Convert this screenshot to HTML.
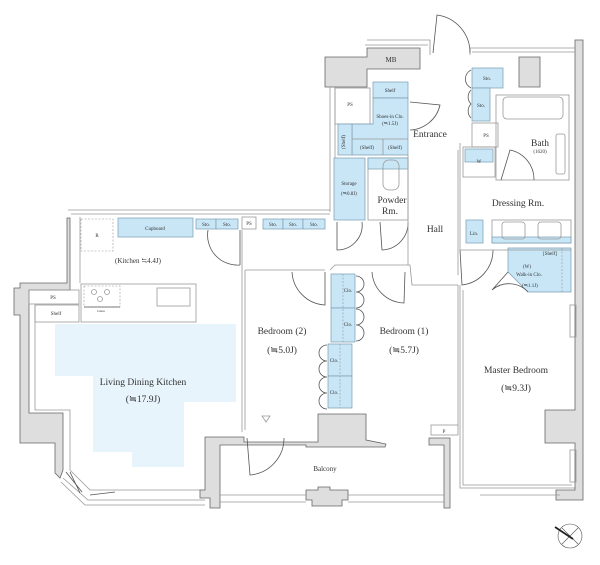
<!DOCTYPE html>
<html><head><meta charset="utf-8"><style>
html,body{margin:0;padding:0;background:#fff}
svg{display:block}
text{font-family:"Liberation Serif",serif;fill:#333;text-anchor:middle}
.s{font-size:5px}.m{font-size:7px}.l{font-size:9.5px}
.w{fill:#dedede;stroke:#666;stroke-width:0.8}
.ln{fill:none;stroke:#999;stroke-width:0.8}
.dk{fill:none;stroke:#555;stroke-width:0.8}
.b{fill:#c9e6f6;stroke:#7a9cb3;stroke-width:0.7}
.dash{fill:none;stroke:#999;stroke-width:0.6;stroke-dasharray:2,1.5}
</style></head><body>
<svg width="600" height="565" viewBox="0 0 600 565" xmlns="http://www.w3.org/2000/svg">
<!-- LDK blue -->
<polygon points="55,324 236,324 236,402 184,402 184,467 132,467 132,452 93,452 93,376 55,376" fill="#e8f4fc"/>

<!-- outer lines top-left LDK -->
<polyline class="ln" points="68,210 330,210"/>
<polyline class="ln" points="71,214 330,214"/>
<polyline class="ln" points="80,217 80,283"/>
<!-- left wall gray -->
<polygon class="w" points="67,218 70,218 70,290 29,290 29,413 63,413 63,470 60,478 55,473 55,443 20,443 20,315 14,315 14,288 20,288 20,283 67,283"/>
<polyline class="ln" points="35,305 35,410 70,410 70,470 90,490 205,490"/>
<polyline class="ln" points="63,478 88,500 205,500"/>
<polyline class="ln" points="61,482 85,505 205,505"/>
<line class="dk" x1="66" y1="472" x2="82" y2="492"/><line class="dk" x1="70" y1="472" x2="80" y2="493"/>
<line class="dk" x1="90" y1="495" x2="115" y2="492"/>
<!-- PS / Shelf -->
<rect class="ln" x="29" y="290" width="50" height="14"/>
<rect class="ln" x="35" y="305" width="44" height="17"/>
<text class="s" x="53" y="299">PS</text>
<text class="s" x="56" y="315">Shelf</text>
<!-- kitchen -->
<rect class="dash" x="81" y="219" width="32" height="32"/>
<text class="s" x="97" y="237">R</text>
<rect class="b" x="118" y="218" width="75" height="19"/>
<text class="s" x="155" y="230">Cupboard</text>
<text class="m" x="138" y="263">(Kitchen ≒4.4J)</text>
<rect class="ln" x="81" y="284" width="115" height="38"/>
<rect class="dash" x="84" y="286" width="36" height="21"/>
<circle class="ln" cx="94" cy="292" r="2.5"/><circle class="ln" cx="107" cy="292" r="2.5"/><circle class="ln" cx="100" cy="299" r="2.5"/>
<line class="dk" x1="84" y1="307" x2="120" y2="307"/>
<text x="101" y="312" style="font-size:3.5px">Glass</text>
<rect class="ln" x="157" y="288" width="33" height="18"/>
<text class="l" x="143" y="385">Living Dining Kitchen</text>
<text class="l" x="143" y="402">(≒17.9J)</text>
<!-- sto near kitchen -->
<rect class="b" x="196" y="219" width="20" height="10"/><rect class="b" x="216" y="219" width="22" height="10"/>
<text class="s" x="206" y="226">Sto.</text><text class="s" x="227" y="226">Sto.</text>
<rect class="ln" x="242" y="217" width="14" height="12"/><text class="s" x="249" y="225">PS</text>
<rect class="b" x="263" y="219" width="20" height="10"/><rect class="b" x="283" y="219" width="20" height="10"/><rect class="b" x="303" y="219" width="22" height="10"/>
<text class="s" x="273" y="226">Sto.</text><text class="s" x="293" y="226">Sto.</text><text class="s" x="314" y="226">Sto.</text>
<path class="dk" d="M208,230 A30,30 0 0 0 240,265"/>
<line class="dk" x1="240" y1="230" x2="240" y2="265"/>
<!-- bedroom 2 & 1 -->
<polyline class="ln" points="242,230 242,432"/>
<polyline class="ln" points="245,270 245,430"/>
<polyline class="ln" points="245,270 325,270"/>
<polyline class="ln" points="330,270 335,265 410,265 412,285 458,285"/>
<polyline class="ln" points="458,285 458,426"/>
<path class="dk" d="M325,272 L325,305 A35,35 0 0 1 292,272"/>
<path class="dk" d="M405,272 L404,303 A33,33 0 0 1 372,272"/>
<rect class="b" x="331" y="274" width="24" height="34"/><rect class="b" x="331" y="308" width="24" height="34"/>
<rect class="b" x="328" y="344" width="24" height="32"/><rect class="b" x="328" y="376" width="24" height="32"/>
<line class="dash" x1="343" y1="274" x2="343" y2="342"/><line class="dash" x1="340" y1="344" x2="340" y2="408"/>
<text class="s" x="348" y="292">Clo.</text><text class="s" x="348" y="326">Clo.</text>
<text class="s" x="334" y="362">Clo.</text><text class="s" x="334" y="394">Clo.</text>
<path class="dk" d="M356,276 a8,8 0 0 1 0,16 a8,8 0 0 1 0,16 M356,309 a8,8 0 0 1 0,16 a8,8 0 0 1 0,16"/>
<path class="dk" d="M327,345 a8,8 0 0 0 0,16 a8,8 0 0 0 0,16 M327,377 a8,8 0 0 0 0,16 a8,8 0 0 0 0,16"/>
<text class="l" x="282" y="334">Bedroom (2)</text>
<text class="l" x="282" y="353">(≒5.0J)</text>
<text class="l" x="404" y="334">Bedroom (1)</text>
<text class="l" x="404" y="353">(≒5.7J)</text>
<polygon class="ln" points="262,416 270,416 266,422"/>
<!-- balcony -->
<polygon class="w" points="205,437 244,437 244,442 318,442 318,414 366,414 366,440 386,444 385,447 306,447 306,445 220,445 220,508 210,508 210,498 200,498 200,490 205,490"/>
<polygon class="w" points="429,438 450,438 450,508 444,508 444,445 429,445"/>
<polygon class="w" points="306,490 318,490 318,487 330,487 330,490 348,490 348,500 342,500 342,506 312,506 312,500 306,500"/>
<polyline class="ln" points="220,495 306,495"/><polyline class="ln" points="348,495 444,495"/>
<polyline class="ln" points="220,502 306,502"/><polyline class="ln" points="348,502 444,502"/>
<path class="dk" d="M247,438 L250,475 A37,37 0 0 0 284,438"/>
<text class="m" x="325" y="471">Balcony</text>
<rect class="ln" x="431" y="425" width="27" height="10"/><text class="s" x="444" y="433">P</text>
<!-- master bedroom -->
<polyline class="ln" points="460,285 460,488 578,488"/>
<polyline class="ln" points="463,290 463,485 572,485"/>
<polygon class="w" points="575,40 583,40 583,500 556,500 556,490 575,490 575,443 545,443 545,410 575,410"/>
<rect class="ln" x="570" y="305" width="6" height="32"/><rect class="ln" x="570" y="450" width="6" height="32"/>
<text class="l" x="516" y="373">Master Bedroom</text>
<text class="l" x="516" y="391">(≒9.3J)</text>
<polyline class="ln" points="480,495 560,495"/>
<!-- walk-in -->
<polygon class="b" points="508,248 571,248 571,292 528,292 508,272"/>
<line class="dash" x1="562" y1="248" x2="562" y2="292"/>
<text class="s" x="550" y="255">[Shelf]</text>
<text class="s" x="527" y="268">(W)</text>
<text class="s" x="529" y="276">Walk-in Clo.</text>
<text class="s" x="530" y="287">(≒1.1J)</text>
<path class="dk" d="M508,272 L492,290 A26,26 0 0 1 528,292"/>
<path class="dk" d="M460,250 L462,285 A35,35 0 0 0 493,250"/>
<!-- dressing / bath -->
<polyline class="ln" points="460,143 460,250 571,250"/>
<rect class="ln" x="496" y="95" width="73" height="85"/>
<rect class="ln" x="503" y="97" width="60" height="22" rx="4"/>
<rect class="ln" x="556" y="134" width="9" height="40" rx="2"/>
<text class="l" x="540" y="146">Bath</text><text class="s" x="540" y="153">(1620)</text>
<path class="dk" d="M501,180 L510,150 A30,30 0 0 1 534,180"/>
<rect class="ln" x="463" y="147" width="32" height="30"/>
<rect class="b" x="465" y="149" width="28" height="13"/>
<text class="s" x="479" y="163">W</text>
<text class="l" x="518" y="206">Dressing Rm.</text>
<rect class="ln" x="492" y="220" width="79" height="23"/>
<rect class="b" x="492" y="237" width="79" height="6"/>
<rect class="ln" x="502" y="222" width="23" height="17" rx="3"/><rect class="ln" x="538" y="222" width="23" height="17" rx="3"/>
<rect class="b" x="466" y="220" width="17" height="23"/><text class="s" x="474" y="235">Lin.</text>
<rect class="ln" x="472" y="123" width="26" height="24"/><text class="s" x="486" y="137">PS</text>
<rect class="b" x="472" y="68" width="31" height="20"/><text class="s" x="487" y="80">Sto.</text>
<rect class="b" x="472" y="88" width="18" height="33"/><text class="s" x="481" y="107">Sto.</text>
<path class="dk" d="M471,70 a10,10 0 0 0 0,18 M471,90 a10,10 0 0 0 0,14 a10,10 0 0 0 0,14"/>
<polygon class="w" points="519,57 540,57 540,87 519,87"/>
<!-- top entrance -->
<polyline class="ln" points="367,40 430,40 430,55"/><polyline class="ln" points="470,55 470,48 575,48"/>
<polyline class="ln" points="365,45 428,45"/><polyline class="ln" points="472,52 575,52"/>
<path class="dk" d="M433,53 L437,15 A38,38 0 0 1 470,53"/>
<polygon class="w" points="325,57 367,57 367,48 420,48 420,69 367,69 367,87 325,87"/>
<text class="m" x="391" y="62">MB</text>
<polyline class="ln" points="330,87 330,212"/>
<polyline class="ln" points="335,87 335,216"/>
<rect class="ln" x="335" y="88" width="35" height="36"/><text class="s" x="350" y="106">PS</text>
<rect class="b" x="373" y="82" width="35" height="16"/><text class="s" x="390" y="92">Shelf</text>
<polygon class="b" points="373,98 408,98 408,155 352,155 352,124 373,124"/>
<rect class="b" x="338" y="124" width="14" height="31"/>
<line class="ln" x1="352" y1="139" x2="408" y2="139"/><line class="ln" x1="383" y1="139" x2="383" y2="155"/>
<text class="s" x="390" y="118">Shoes-in Clo.</text><text class="s" x="390" y="125">(≒1.5J)</text>
<text class="s" x="367" y="149">(Shelf)</text><text class="s" x="395" y="149">(Shelf)</text>
<text class="s" x="345" y="142" transform="rotate(-90 345 142)">(Shelf)</text>
<path class="dk" d="M410,102 L440,105 A32,32 0 0 1 410,130"/>
<text class="l" x="430" y="137">Entrance</text>
<rect class="b" x="334" y="158" width="31" height="62"/>
<text class="s" x="349" y="185">Storage</text><text class="s" x="349" y="195">(≒0.8J)</text>
<rect class="ln" x="368" y="158" width="40" height="62"/>
<rect class="b" x="368" y="158" width="40" height="11"/>
<rect class="ln" x="383" y="160" width="16" height="30" rx="6"/>
<text class="l" x="392" y="203">Powder</text><text class="l" x="390" y="214">Rm.</text>
<path class="dk" d="M337,222 L337,250 A25,25 0 0 0 362,222"/>
<path class="dk" d="M380,222 L382,250 A27,27 0 0 0 408,222"/>
<polyline class="ln" points="408,155 408,265"/>
<polyline class="ln" points="458,150 458,275"/>
<text class="l" x="435" y="232">Hall</text>
<!-- compass -->
<circle cx="570" cy="536" r="12" fill="none" stroke="#555" stroke-width="0.6"/>
<line x1="562" y1="528" x2="578" y2="544" stroke="#555" stroke-width="0.6"/>
<line x1="578" y1="528" x2="562" y2="544" stroke="#555" stroke-width="0.6"/>
<line x1="555" y1="527" x2="573" y2="539" stroke="#222" stroke-width="1.8"/>
</svg>
</body></html>
